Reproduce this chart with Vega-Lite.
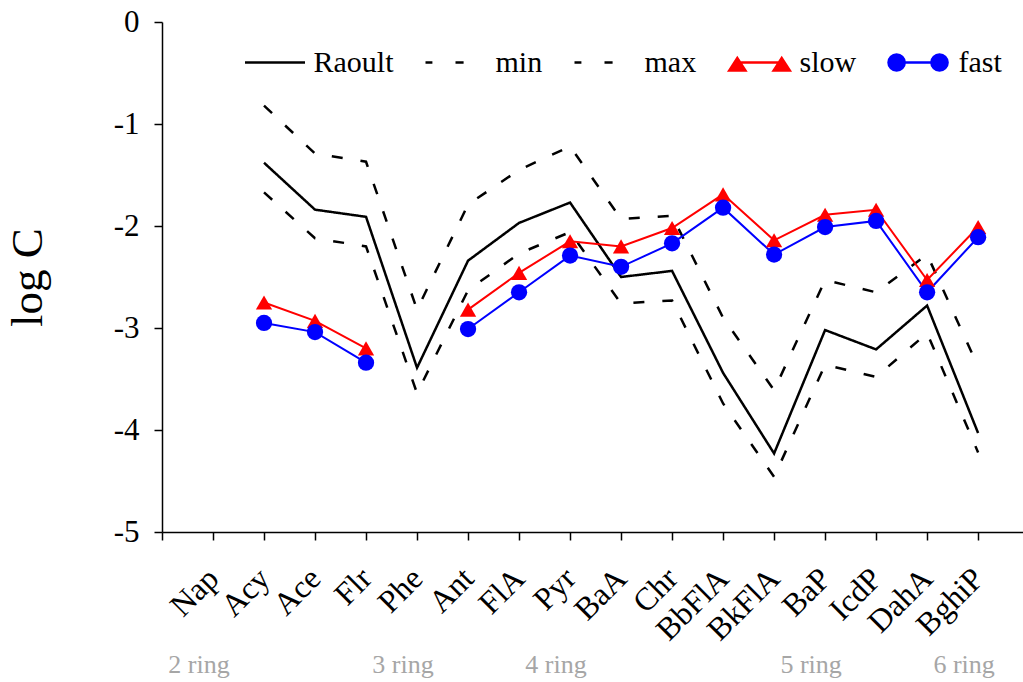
{
  "$schema": "https://vega.github.io/schema/vega-lite/v6.json",
  "width": 861,
  "height": 510,
  "autosize": {"type": "none"},
  "padding": {"left": 162, "top": 22, "right": 0, "bottom": 150},
  "background": "white",
  "config": {
    "view": {"stroke": null},
    "font": "Liberation Serif",
    "axis": {"grid": false, "domainColor": "black", "domainWidth": 1.5, "tickColor": "black", "tickWidth": 1.5, "tickSize": 8, "labelColor": "black", "labelFont": "Liberation Serif", "titleFont": "Liberation Serif", "titleColor": "black"}
  },
  "datasets": {
    "series": [
      {"c": "Acy", "s": "Raoult", "v": -1.38}, {"c": "Ace", "s": "Raoult", "v": -1.84}, {"c": "Flr", "s": "Raoult", "v": -1.91}, {"c": "Phe", "s": "Raoult", "v": -3.39}, {"c": "Ant", "s": "Raoult", "v": -2.34}, {"c": "FlA", "s": "Raoult", "v": -1.97}, {"c": "Pyr", "s": "Raoult", "v": -1.77}, {"c": "BaA", "s": "Raoult", "v": -2.50}, {"c": "Chr", "s": "Raoult", "v": -2.44}, {"c": "BbFlA", "s": "Raoult", "v": -3.44}, {"c": "BkFlA", "s": "Raoult", "v": -4.23}, {"c": "BaP", "s": "Raoult", "v": -3.02}, {"c": "IcdP", "s": "Raoult", "v": -3.21}, {"c": "DahA", "s": "Raoult", "v": -2.78}, {"c": "BghiP", "s": "Raoult", "v": -4.03},
      {"c": "Acy", "s": "min", "v": -1.67}, {"c": "Ace", "s": "min", "v": -2.12}, {"c": "Flr", "s": "min", "v": -2.20}, {"c": "Phe", "s": "min", "v": -3.64}, {"c": "Ant", "s": "min", "v": -2.63}, {"c": "FlA", "s": "min", "v": -2.27}, {"c": "Pyr", "s": "min", "v": -2.06}, {"c": "BaA", "s": "min", "v": -2.76}, {"c": "Chr", "s": "min", "v": -2.73}, {"c": "BbFlA", "s": "min", "v": -3.74}, {"c": "BkFlA", "s": "min", "v": -4.46}, {"c": "BaP", "s": "min", "v": -3.36}, {"c": "IcdP", "s": "min", "v": -3.48}, {"c": "DahA", "s": "min", "v": -3.05}, {"c": "BghiP", "s": "min", "v": -4.22},
      {"c": "Acy", "s": "max", "v": -0.82}, {"c": "Ace", "s": "max", "v": -1.29}, {"c": "Flr", "s": "max", "v": -1.37}, {"c": "Phe", "s": "max", "v": -2.82}, {"c": "Ant", "s": "max", "v": -1.79}, {"c": "FlA", "s": "max", "v": -1.45}, {"c": "Pyr", "s": "max", "v": -1.22}, {"c": "BaA", "s": "max", "v": -1.93}, {"c": "Chr", "s": "max", "v": -1.90}, {"c": "BbFlA", "s": "max", "v": -2.90}, {"c": "BkFlA", "s": "max", "v": -3.61}, {"c": "BaP", "s": "max", "v": -2.53}, {"c": "IcdP", "s": "max", "v": -2.65}, {"c": "DahA", "s": "max", "v": -2.28}, {"c": "BghiP", "s": "max", "v": -3.38},
      {"c": "Acy", "s": "slow", "v": -2.75}, {"c": "Ace", "s": "slow", "v": -2.93}, {"c": "Flr", "s": "slow", "v": -3.20}, {"c": "Phe", "s": "slow", "v": null}, {"c": "Ant", "s": "slow", "v": -2.82}, {"c": "FlA", "s": "slow", "v": -2.46}, {"c": "Pyr", "s": "slow", "v": -2.15}, {"c": "BaA", "s": "slow", "v": -2.20}, {"c": "Chr", "s": "slow", "v": -2.02}, {"c": "BbFlA", "s": "slow", "v": -1.69}, {"c": "BkFlA", "s": "slow", "v": -2.14}, {"c": "BaP", "s": "slow", "v": -1.89}, {"c": "IcdP", "s": "slow", "v": -1.84}, {"c": "DahA", "s": "slow", "v": -2.53}, {"c": "BghiP", "s": "slow", "v": -2.01},
      {"c": "Acy", "s": "fast", "v": -2.95}, {"c": "Ace", "s": "fast", "v": -3.04}, {"c": "Flr", "s": "fast", "v": -3.34}, {"c": "Phe", "s": "fast", "v": null}, {"c": "Ant", "s": "fast", "v": -3.01}, {"c": "FlA", "s": "fast", "v": -2.65}, {"c": "Pyr", "s": "fast", "v": -2.29}, {"c": "BaA", "s": "fast", "v": -2.40}, {"c": "Chr", "s": "fast", "v": -2.17}, {"c": "BbFlA", "s": "fast", "v": -1.82}, {"c": "BkFlA", "s": "fast", "v": -2.28}, {"c": "BaP", "s": "fast", "v": -2.01}, {"c": "IcdP", "s": "fast", "v": -1.95}, {"c": "DahA", "s": "fast", "v": -2.65}, {"c": "BghiP", "s": "fast", "v": -2.11}
    ],
    "rings": [
      {"ring": "2 ring", "c": "Nap"}, {"ring": "3 ring", "c": "Phe"}, {"ring": "4 ring", "c": "Pyr"}, {"ring": "5 ring", "c": "BaP"}, {"ring": "6 ring", "c": "BghiP"}
    ]
  },
  "encoding": {
    "x": {
      "field": "c", "type": "ordinal",
      "scale": {"type": "point", "domain": ["", "Nap", "Acy", "Ace", "Flr", "Phe", "Ant", "FlA", "Pyr", "BaA", "Chr", "BbFlA", "BkFlA", "BaP", "IcdP", "DahA", "BghiP"], "padding": 0.44, "align": 0},
      "axis": {"title": null, "labelAngle": -45, "labelAlign": "right", "labelBaseline": "middle", "labelPadding": 33, "labelDx": 3, "labelFontSize": 32, "labelOverlap": false, "labelBound": false, "labelFlush": false}
    }
  },
  "layer": [
    {
      "data": {"name": "series"},
      "transform": [{"filter": "datum.s === 'Raoult' || datum.s === 'min' || datum.s === 'max'"}],
      "mark": {"type": "line", "strokeWidth": 2.5},
      "encoding": {
        "y": {
          "field": "v", "type": "quantitative",
          "scale": {"domain": [-5, 0], "nice": false, "zero": false},
          "axis": {"title": "log C", "titleFontSize": 45, "titleFontWeight": "normal", "titlePadding": 63, "values": [-5, -4, -3, -2, -1, 0], "labelExpr": "'' + datum.value", "labelFontSize": 31, "labelPadding": 15}
        },
        "color": {
          "field": "s", "type": "nominal",
          "scale": {"domain": ["Raoult", "min", "max", "slow", "fast"], "range": ["#000000", "#000000", "#000000", "#ff0000", "#0000ff"]},
          "legend": {
            "title": null, "orient": "none", "legendX": 81.5, "legendY": 9, "direction": "horizontal", "columns": 5,
            "columnPadding": 27, "gridAlign": "none", "symbolSize": 3600, "labelOffset": 7, "labelFontSize": 30,
            "labelFont": "Liberation Serif", "labelColor": "black", "padding": 0, "symbolStrokeWidth": 2.5,
            "encode": {
              "symbols": {
                "update": {
                  "size": {"value": 3600},
                  "strokeWidth": {"value": 2.5},
                  "shape": {"signal": "datum.value === 'Raoult' ? 'M-1,0H1' : datum.value === 'slow' ? 'M-0.79,0H0.69M-1.06,0.27L-0.79,-0.15L-0.52,0.27ZM0.42,0.27L0.69,-0.15L0.96,0.27Z' : datum.value === 'fast' ? 'M-0.78,0H0.65M-1.05,0A0.27,0.27,0,1,1,-0.51,0A0.27,0.27,0,1,1,-1.05,0ZM0.38,0A0.27,0.27,0,1,1,0.92,0A0.27,0.27,0,1,1,0.38,0Z' : 'M-1.05,0H-0.82M-0.05,0H0.22'"},
                  "fill": {"scale": "color", "field": "value"},
                  "stroke": {"scale": "color", "field": "value"},
                  "opacity": {"value": 1}
                }
              }
            }
          }
        },
        "strokeDash": {
          "field": "s", "type": "nominal",
          "scale": {"domain": ["Raoult", "min", "max"], "range": [[1, 0], [11, 18], [11, 18]]},
          "legend": null
        },
        "order": {"value": null}
      }
    },
    {
      "data": {"name": "series"},
      "transform": [{"filter": "datum.s === 'slow' || datum.s === 'fast'"}],
      "mark": {"type": "line", "strokeWidth": 2, "invalid": "break-paths-show-domains"},
      "encoding": {
        "y": {"field": "v", "type": "quantitative"},
        "color": {"field": "s", "type": "nominal"},
        "order": {"value": null}
      }
    },
    {
      "data": {"name": "series"},
      "transform": [{"filter": "(datum.s === 'slow' || datum.s === 'fast') && datum.v != null"}],
      "mark": {"type": "point", "filled": true, "opacity": 1, "size": 265},
      "encoding": {
        "y": {"field": "v", "type": "quantitative"},
        "color": {"field": "s", "type": "nominal"},
        "shape": {"field": "s", "type": "nominal", "scale": {"domain": ["slow", "fast"], "range": ["triangle-up", "circle"]}, "legend": null}
      }
    },
    {
      "data": {"name": "rings"},
      "mark": {"type": "text", "font": "Liberation Serif", "fontSize": 26, "color": "#a6a6a6", "align": "center", "baseline": "middle", "dx": -14},
      "encoding": {
        "y": {"datum": -6.3},
        "text": {"field": "ring"}
      }
    }
  ]
}
